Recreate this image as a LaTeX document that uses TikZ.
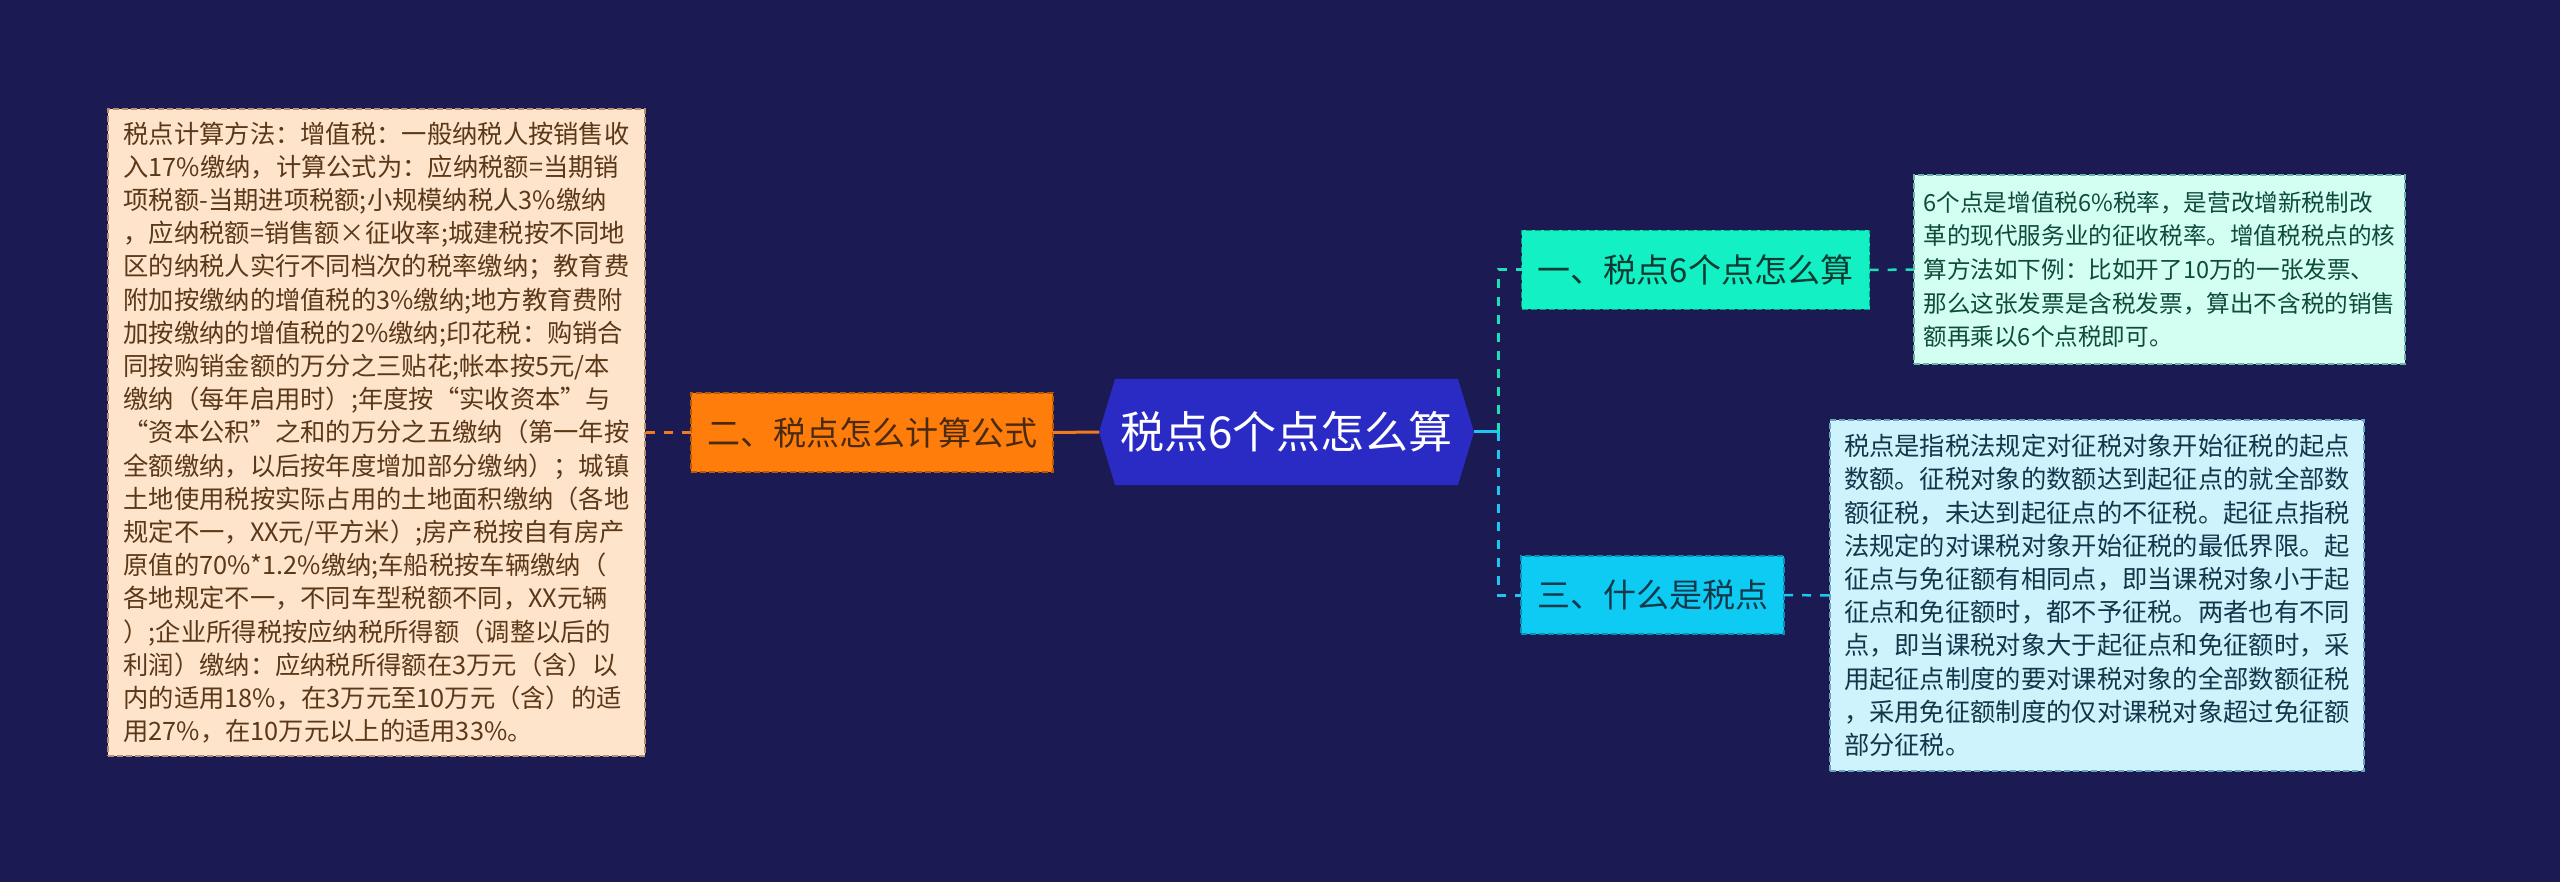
\documentclass[tikz,border=0pt]{standalone}
\usepackage{fontspec}
\setmainfont{Noto Sans CJK SC}
\definecolor{bg}{HTML}{1B1A52}
\definecolor{peach}{HTML}{FFE4CC}
\definecolor{peachline}{HTML}{B89070}
\definecolor{peachtext}{HTML}{5A3818}
\definecolor{orangefill}{HTML}{FF7D0A}
\definecolor{orangeline}{HTML}{B85800}
\definecolor{orangetext}{HTML}{4A2A10}
\definecolor{hexfill}{HTML}{2A2AC4}
\definecolor{greenfill}{HTML}{12F0C4}
\definecolor{greenline}{HTML}{0A9E80}
\definecolor{greentext}{HTML}{0D3B33}
\definecolor{cyanfill}{HTML}{0DCBF2}
\definecolor{cyanline}{HTML}{0A8EB4}
\definecolor{cyantext}{HTML}{123A4C}
\definecolor{mint}{HTML}{D2FFF2}
\definecolor{mintline}{HTML}{6AB4A4}
\definecolor{minttext}{HTML}{0F4A3C}
\definecolor{ice}{HTML}{CFF3FC}
\definecolor{iceline}{HTML}{6AA4BC}
\definecolor{icetext}{HTML}{13364A}
\definecolor{conorange}{HTML}{F07A1E}
\definecolor{congreen}{HTML}{1DE0B8}
\definecolor{concyan}{HTML}{1EC6F0}
\begin{document}
\begin{tikzpicture}[x=1pt,y=-1pt,
  every node/.style={outer sep=0pt,inner sep=0pt},
  detail/.style={draw,line width=1.5pt,dash pattern=on 6pt off 3pt,align=left,
    font=\fontsize{25.3}{33.2}\selectfont},
  topic/.style={draw,line width=1.5pt,dash pattern=on 6pt off 3pt,
    font=\fontsize{33}{40}\selectfont},
  conline/.style={line width=3pt},
  condash/.style={line width=3pt,dash pattern=on 9pt off 9pt}]
\fill[bg] (0,0) rectangle (2560,882);
\useasboundingbox (0,0) rectangle (2560,882);

% central hexagon
\fill[hexfill] (1099,432) -- (1115,379) -- (1458,379) -- (1474,432) -- (1458,485) -- (1115,485) -- cycle;
\node[minimum width=375pt,minimum height=106pt,text=white,font=\fontsize{44}{50}\selectfont]
  (c) at (1286.5,432) {税点6个点怎么算};

% level 1
\node[topic,fill=orangefill,draw=orangeline,text=orangetext,minimum width=362pt,minimum height=79pt]
  (o) at (872,432.5) {二、税点怎么计算公式};
\node[topic,fill=greenfill,draw=greenline,text=greentext,minimum width=348pt,minimum height=79pt]
  (g) at (1695.5,270) {一、税点6个点怎么算};
\node[topic,fill=cyanfill,draw=cyanline,text=cyantext,minimum width=263pt,minimum height=78pt]
  (t) at (1652.5,595) {三、什么是税点};

% details
\node[detail,fill=peach,draw=peachline,text=peachtext,minimum width=537pt,minimum height=647pt]
  (L) at (376.5,432.5) {税点计算方法：增值税：一般纳税人按销售收\\%
入17\%缴纳，计算公式为：应纳税额=当期销\\%
项税额-当期进项税额;小规模纳税人3\%缴纳\\%
，应纳税额=销售额×征收率;城建税按不同地\\%
区的纳税人实行不同档次的税率缴纳；教育费\\%
附加按缴纳的增值税的3\%缴纳;地方教育费附\\%
加按缴纳的增值税的2\%缴纳;印花税：购销合\\%
同按购销金额的万分之三贴花;帐本按5元/本\\%
缴纳（每年启用时）;年度按“实收资本”与\\%
“资本公积”之和的万分之五缴纳（第一年按\\%
全额缴纳，以后按年度增加部分缴纳）；城镇\\%
土地使用税按实际占用的土地面积缴纳（各地\\%
规定不一，XX元/平方米）;房产税按自有房产\\%
原值的70\%*1.2\%缴纳;车船税按车辆缴纳（\\%
各地规定不一，不同车型税额不同，XX元辆\\%
）;企业所得税按应纳税所得额（调整以后的\\%
利润）缴纳：应纳税所得额在3万元（含）以\\%
内的适用18\%，在3万元至10万元（含）的适\\%
用27\%，在10万元以上的适用33\%。};

\node[detail,fill=mint,draw=mintline,text=minttext,minimum width=491pt,minimum height=189pt,
  font=\fontsize{23.6}{33.6}\selectfont]
  (R1) at (2159.5,269.5) {6个点是增值税6\%税率，是营改增新税制改\\%
革的现代服务业的征收税率。增值税税点的核\\%
算方法如下例：比如开了10万的一张发票、\\%
那么这张发票是含税发票，算出不含税的销售\\%
额再乘以6个点税即可。};

\node[detail,fill=ice,draw=iceline,text=icetext,minimum width=534pt,minimum height=351pt]
  (R2) at (2097,595.5) {税点是指税法规定对征税对象开始征税的起点\\%
数额。征税对象的数额达到起征点的就全部数\\%
额征税，未达到起征点的不征税。起征点指税\\%
法规定的对课税对象开始征税的最低界限。起\\%
征点与免征额有相同点，即当课税对象小于起\\%
征点和免征额时，都不予征税。两者也有不同\\%
点，即当课税对象大于起征点和免征额时，采\\%
用起征点制度的要对课税对象的全部数额征税\\%
，采用免征额制度的仅对课税对象超过免征额\\%
部分征税。};

% connectors
\coordinate (j) at (1498,432);
\draw[condash,conorange] (o.west) -- (L.east);
\draw[conline,conorange] (o.east) -- (c.west);
\draw[conline,concyan] (c.east) -- (j);
\draw[condash,congreen] (j) |- (g.west);
\draw[condash,concyan] (j) |- (t.west);
\draw[condash,congreen,line width=2.5pt] (g.east) -- (R1.west);
\draw[condash,concyan,line width=2.5pt] (t.east) -- (R2.west);
\end{tikzpicture}
\end{document}
